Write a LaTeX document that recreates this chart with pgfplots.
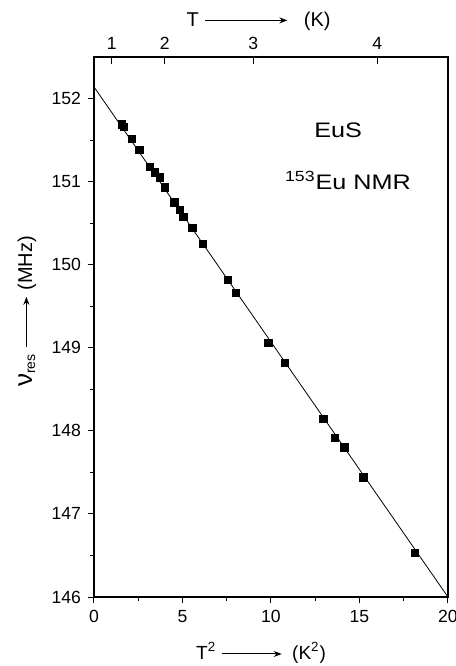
\documentclass[border=0pt]{standalone}
\usepackage{fontspec}
\setmainfont{Liberation Sans}
\newfontfamily\widesans[FakeStretch=1.2]{Liberation Sans}
\usepackage{pgfplots}
\pgfplotsset{compat=1.18}
\usetikzlibrary{arrows.meta,calc}

% long arrow used inside the axis labels
\newcommand{\rarrow}[1]{\tikz[baseline=-0.55ex]\draw[line width=0.5pt,-{Stealth[length=4pt,width=3pt]}] (0,0)--(#1,0);}

\pgfplotstableread{
x      y
1.56   151.69
1.69   151.66
2.13   151.51
2.56   151.38
3.16   151.18
3.45   151.11
3.73   151.05
4.01   150.93
4.54   150.75
4.86   150.66
5.05   150.58
5.56   150.44
6.14   150.25
7.57   149.82
8.00   149.66
9.85   149.06
10.79  148.82
12.96  148.14
13.62  147.92
14.15  147.80
15.22  147.44
18.14  146.53
}\nmrdata

\begin{document}
\begin{tikzpicture}
\useasboundingbox (-47pt,-34.5pt) rectangle (181pt,298.5pt);
\begin{axis}[
  name=main,
  scale only axis, width=177pt, height=270pt,
  at={(0,0)}, anchor=south west,
  xmin=0, xmax=20, ymin=146, ymax=152.5,
  xtick={0,5,...,20}, ytick={146,147,...,152},
  minor x tick num=1, minor y tick num=1,
  xtick pos=left, ytick pos=left,
  tick align=outside,
  major tick length=3pt, minor tick length=1.8pt,
  tick style={black, line width=0.5pt},
  axis line style={line width=0.6pt},
  ticklabel style={font=\fontsize{8.8}{9}\selectfont},
  /pgf/number format/assume math mode=true,
]
\addplot[black, line width=0.4pt] coordinates {(0,152.14) (20,146.0)};
\addplot[only marks, mark=square*, mark size=1.8pt, black] table[x=x, y=y] {\nmrdata};

\node[font=\widesans\fontsize{10.5}{12}\selectfont] at (axis cs:13.79,151.62) {EuS};
\node[font=\widesans\fontsize{10.5}{12}\selectfont] at (axis cs:14.35,151.01) {\textsuperscript{153}Eu NMR};
\end{axis}

% temperature scale along the top edge (ticks at T^2)
\begin{axis}[
  scale only axis, width=177pt, height=270pt,
  at={(0,0)}, anchor=south west,
  xmin=0, xmax=20, ymin=0, ymax=1,
  axis x line*=top, axis y line=none,
  xtick={1,4,9,16}, xticklabels={1,2,3,4},
  tick align=inside, major tick length=3.5pt,
  tick style={black, line width=0.5pt},
  axis line style={line width=0.6pt},
  ticklabel style={font=\fontsize{8.8}{9}\selectfont},
  /pgf/number format/assume math mode=true,
]
\end{axis}

% axis titles with long arrows
\node[font=\fontsize{9.5}{11}\selectfont] at ($(main.south west)!0.472!(main.south east)+(0,-28pt)$)
  {T\textsuperscript{2}\hspace{2.5pt}\rarrow{30pt}\hspace{5pt}(K\textsuperscript{2})};
\node[font=\fontsize{10}{11}\selectfont] at ($(main.north west)!0.465!(main.north east)+(0,18pt)$)
  {T\hspace{3pt}\rarrow{41pt}\hspace{8pt}(K)};
\node[font=\fontsize{10}{11}\selectfont, rotate=90] at ($(main.south west)!0.529!(main.north west)+(-33.5pt,0)$)
  {{\fontsize{13}{13}\selectfont ν}\textsubscript{\fontsize{7}{7}\selectfont res}\hspace{3pt}\rarrow{25pt}\hspace{3pt}(MHz)};
\end{tikzpicture}
\end{document}
